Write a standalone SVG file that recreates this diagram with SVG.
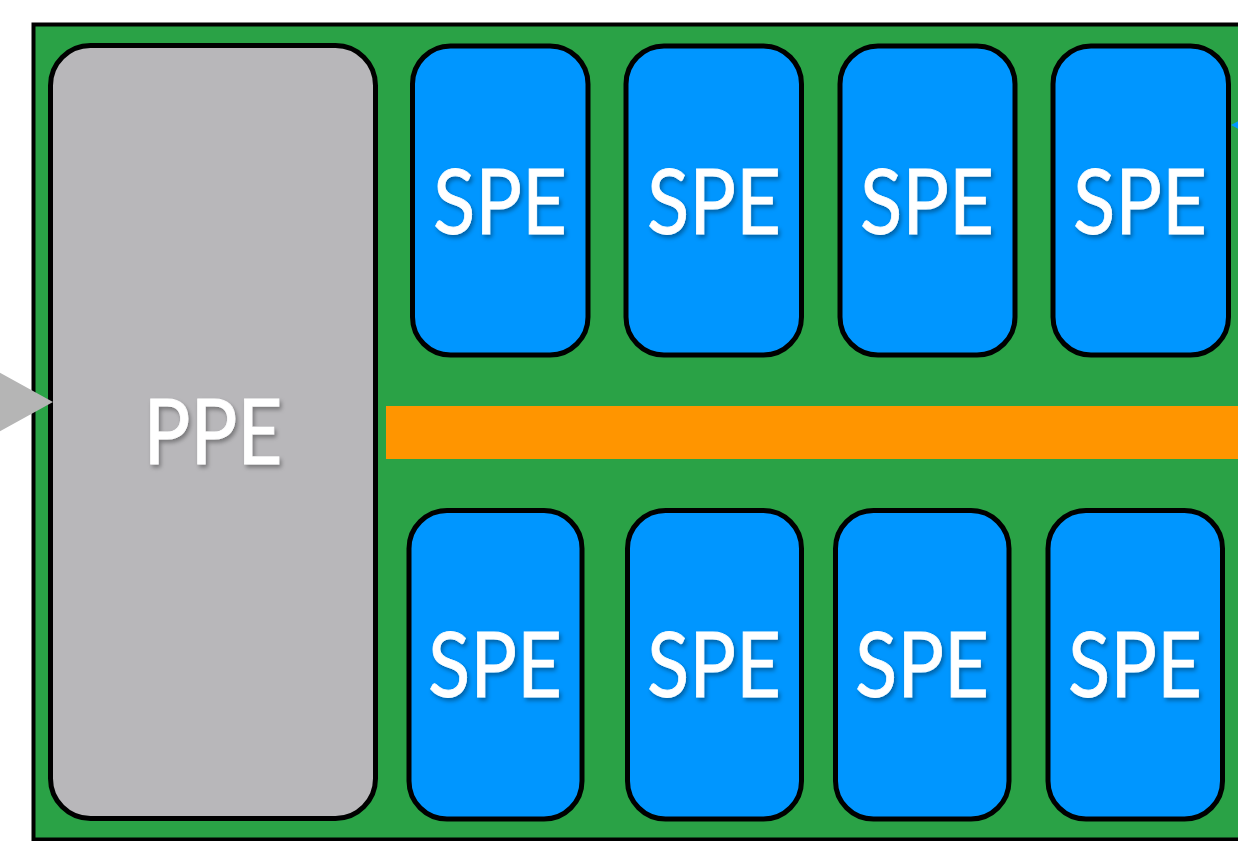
<svg xmlns="http://www.w3.org/2000/svg" width="1238" height="841" viewBox="0 0 1238 841">
  <defs>
    <filter id="txtShadow" x="-20%" y="-20%" width="140%" height="150%">
      <feDropShadow dx="2" dy="3" stdDeviation="2" flood-color="#000" flood-opacity="0.35"/>
    </filter>
  </defs>
  <style>
    .chip { fill: #2aa246; stroke: #000; stroke-width: 4; }
    .ppe { fill: #b8b7ba; stroke: #000; stroke-width: 5; }
    .spe { fill: #0096ff; stroke: #000; stroke-width: 5; }
    .bus { fill: #ff9500; }
    .label { font-family: "Lato", "Open Sans", "Liberation Sans", sans-serif; font-size: 92px; fill: #fff; stroke: #fff; stroke-width: 0.8; text-anchor: middle; filter: url(#txtShadow); }
  </style>
  <rect width="1238" height="841" fill="#fff"/>

  <!-- chip substrate -->
  <g id="chip">
    <rect class="chip" x="33.5" y="24.5" width="1260" height="815"/>
  </g>

  <!-- element interconnect bus -->
  <g id="bus">
    <rect class="bus" x="386" y="406" width="860" height="53"/>
  </g>

  <!-- power processor element -->
  <g id="ppe">
    <rect class="ppe" x="50.5" y="45.5" width="325" height="773" rx="40" ry="40"/>
    <text class="label" x="213" y="464" textLength="139" lengthAdjust="spacingAndGlyphs">PPE</text>
  </g>

  <!-- synergistic processor elements, upper row -->
  <g id="spe-1">
    <rect class="spe" x="412.5" y="46" width="175.5" height="309" rx="38" ry="38"/>
    <text class="label" x="500" y="234" textLength="134" lengthAdjust="spacingAndGlyphs">SPE</text>
  </g>
  <g id="spe-2">
    <rect class="spe" x="626" y="46" width="175.5" height="309" rx="38" ry="38"/>
    <text class="label" x="714" y="234" textLength="134" lengthAdjust="spacingAndGlyphs">SPE</text>
  </g>
  <g id="spe-3">
    <rect class="spe" x="840" y="46" width="175" height="309" rx="38" ry="38"/>
    <text class="label" x="927" y="234" textLength="134" lengthAdjust="spacingAndGlyphs">SPE</text>
  </g>
  <g id="spe-4">
    <rect class="spe" x="1053" y="46" width="175.5" height="309" rx="38" ry="38"/>
    <text class="label" x="1140" y="234" textLength="134" lengthAdjust="spacingAndGlyphs">SPE</text>
  </g>

  <!-- synergistic processor elements, lower row -->
  <g id="spe-5">
    <rect class="spe" x="409" y="510.5" width="173" height="308.5" rx="38" ry="38"/>
    <text class="label" x="495" y="697" textLength="134" lengthAdjust="spacingAndGlyphs">SPE</text>
  </g>
  <g id="spe-6">
    <rect class="spe" x="627.5" y="510.5" width="174" height="308.5" rx="38" ry="38"/>
    <text class="label" x="714" y="697" textLength="134" lengthAdjust="spacingAndGlyphs">SPE</text>
  </g>
  <g id="spe-7">
    <rect class="spe" x="835.5" y="510.5" width="173.5" height="308.5" rx="38" ry="38"/>
    <text class="label" x="922" y="697" textLength="134" lengthAdjust="spacingAndGlyphs">SPE</text>
  </g>
  <g id="spe-8">
    <rect class="spe" x="1048" y="510.5" width="174.5" height="308.5" rx="38" ry="38"/>
    <text class="label" x="1135" y="697" textLength="134" lengthAdjust="spacingAndGlyphs">SPE</text>
  </g>

  <!-- connectors entering from outside the frame -->
  <g id="connectors">
    <polygon points="53,402 -12,366 -12,438" fill="#b5b5b5"/>
    <polygon points="1231,125 1242,119 1242,131" fill="#0096ff"/>
  </g>
</svg>
